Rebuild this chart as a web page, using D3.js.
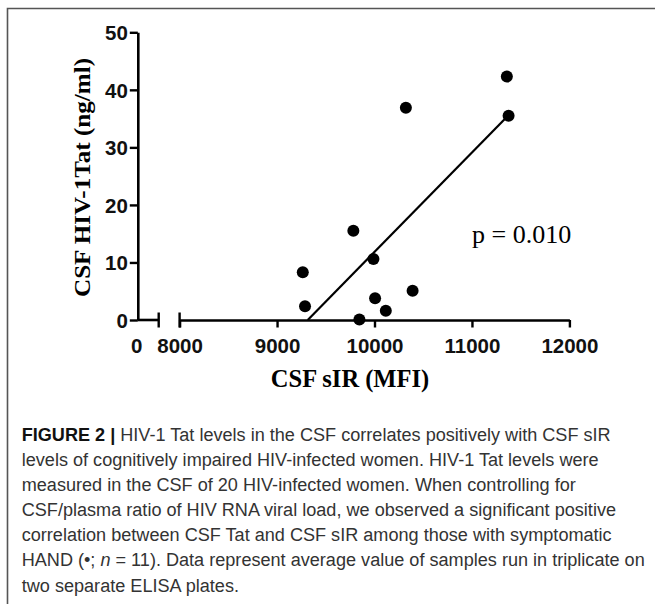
<!DOCTYPE html>
<html>
<head>
<meta charset="utf-8">
<script src="https://cdn.jsdelivr.net/npm/d3@7"></script>
<style>
  body { margin: 0; background: #fff; }
  svg { display: block; }
</style>
</head>
<body>
<svg id="chart"></svg>
<script>
// data
var sirValues = [9264, 9287, 9783, 9845, 9989, 10006, 10116, 10322, 10391, 11358, 11376];
var tatValues = [8.3, 2.4, 15.5, 0.1, 10.6, 3.8, 1.6, 36.9, 5.1, 42.3, 35.5];
var fitX = [9315, 11375];
var fitY = [0, 35.6];
var yTicks = [0, 10, 20, 30, 40, 50];
var xTicks = [8000, 9000, 10000, 11000, 12000];
var pLabel = "p = 0.010";
var captionLines = [
  "HIV-1 Tat levels in the CSF correlates positively with CSF sIR",
  "levels of cognitively impaired HIV-infected women. HIV-1 Tat levels were",
  "measured in the CSF of 20 HIV-infected women. When controlling for",
  "CSF/plasma ratio of HIV RNA viral load, we observed a significant positive",
  "correlation between CSF Tat and CSF sIR among those with symptomatic",
  "HAND (\u2022; n = 11). Data represent average value of samples run in triplicate on",
  "two separate ELISA plates."
];

var width = 655, height = 604;
var svg = d3.select('#chart').attr('width', width).attr('height', height);

// frame (top + left only)
svg.append('path')
  .attr('d', 'M7.5,604 V8.5 H655')
  .attr('fill', 'none')
  .attr('stroke', '#555')
  .attr('stroke-width', 1.6);

var axisX0 = 137.8, axisY0 = 320;

var y = d3.scaleLinear().domain([0, 50]).range([axisY0, 32.3]);
// broken x axis: a stub for 0, then 8000..12000
var xLeft = d3.scaleLinear().domain([0, 1]).range([axisX0, 158.7]);
var x = d3.scaleLinear().domain([8000, 12000]).range([179.6, 569.4]);

var tickFont = '"Liberation Sans", Arial, sans-serif';
var serif = '"Liberation Serif", "Times New Roman", serif';

// y axis
var yAxis = svg.append('g')
  .attr('transform', 'translate(' + axisX0 + ',0)')
  .call(d3.axisLeft(y).tickValues(yTicks).tickSize(8).tickSizeOuter(0).tickPadding(2));
yAxis.select('.domain').attr('stroke-width', 2.6);
yAxis.selectAll('.tick line').attr('stroke-width', 2.4);
yAxis.selectAll('.tick text')
  .attr('font-family', tickFont).attr('font-weight', 'bold').attr('font-size', 20.5)
  .attr('fill', '#111').attr('dy', '0.36em');

// x axis left stub
var xa1 = svg.append('g').attr('transform', 'translate(0,' + axisY0 + ')');
xa1.append('line').attr('x1', xLeft(0)).attr('x2', xLeft(1))
  .attr('stroke', '#000').attr('stroke-width', 2.6);
xa1.append('line').attr('x1', xLeft(1)).attr('x2', xLeft(1)).attr('y1', -7.5).attr('y2', 7.5)
  .attr('stroke', '#000').attr('stroke-width', 2.4);
xa1.append('text').attr('x', xLeft(0) - 1).attr('y', 32.5).attr('text-anchor', 'middle')
  .attr('font-family', tickFont).attr('font-weight', 'bold').attr('font-size', 20.5)
  .attr('fill', '#111').text('0');

// x axis main segment
var xAxis = svg.append('g')
  .attr('transform', 'translate(0,' + axisY0 + ')')
  .call(d3.axisBottom(x).tickValues(xTicks).tickSize(7.5).tickSizeOuter(0).tickFormat(d3.format('d')));
xAxis.select('.domain').attr('stroke-width', 2.6);
xAxis.selectAll('.tick line').attr('stroke-width', 2.4);
xAxis.selectAll('.tick text')
  .attr('font-family', tickFont).attr('font-weight', 'bold').attr('font-size', 20.5)
  .attr('fill', '#111').attr('y', 32.5).attr('dy', 0);
xAxis.append('line').attr('x1', x(8000)).attr('x2', x(8000)).attr('y1', -7.5).attr('y2', 7.5)
  .attr('stroke', '#000').attr('stroke-width', 2.4);

// regression line
svg.append('line')
  .attr('x1', x(fitX[0])).attr('y1', y(fitY[0]))
  .attr('x2', x(fitX[1])).attr('y2', y(fitY[1]))
  .attr('stroke', '#000').attr('stroke-width', 2.2);

// points
svg.selectAll('circle.pt').data(sirValues).enter().append('circle')
  .attr('class', 'pt')
  .attr('cx', function(d) { return x(d); })
  .attr('cy', function(d, i) { return y(tatValues[i]); })
  .attr('r', 6)
  .attr('fill', '#000');

// axis titles
svg.append('text')
  .attr('transform', 'translate(90,177.5) rotate(-90)')
  .attr('text-anchor', 'middle')
  .attr('font-family', serif).attr('font-weight', 'bold').attr('font-size', 24)
  .attr('textLength', 239).attr('lengthAdjust', 'spacingAndGlyphs')
  .text('CSF HIV-1Tat (ng/ml)');

svg.append('text')
  .attr('x', 350).attr('y', 387)
  .attr('text-anchor', 'middle')
  .attr('font-family', serif).attr('font-weight', 'bold').attr('font-size', 24.5)
  .text('CSF sIR (MFI)');

svg.append('text')
  .attr('x', 472).attr('y', 243)
  .attr('font-family', serif).attr('font-size', 26)
  .text(pLabel);

// caption
var cap = svg.append('g').attr('transform', 'translate(21.7,0)');
var capText = cap.selectAll('text').data(captionLines).enter().append('text')
  .attr('x', 0)
  .attr('y', function(d, i) { return 441 + i * 25.1; })
  .attr('font-family', '"Liberation Sans", Arial, sans-serif')
  .attr('font-size', 18.2)
  .attr('fill', '#333');
capText.each(function(d, i) {
  var t = d3.select(this);
  if (i === 0) {
    t.append('tspan').attr('font-weight', 'bold').attr('fill', '#111').text('FIGURE 2 | ');
  }
  if (i === 5) {
    t.append('tspan').text('HAND (\u2022; ');
    t.append('tspan').attr('font-style', 'italic').text('n');
    t.append('tspan').text(' = 11). Data represent average value of samples run in triplicate on');
  } else {
    t.append('tspan').text(d);
  }
});
// squeeze the caption so the longest line matches the figure width
var longest = capText.nodes()[5].getComputedTextLength();
var sx = 623 / longest;
cap.attr('transform', 'translate(21.7,0) scale(' + sx + ',1)');
</script>
</body>
</html>
